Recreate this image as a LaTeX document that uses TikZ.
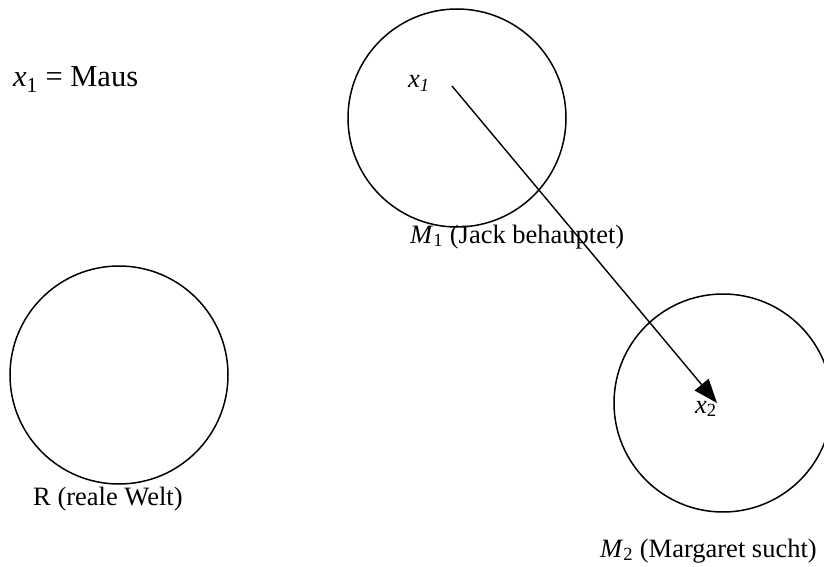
\documentclass[tikz,border=0pt]{standalone}
\usepackage{fontspec}
\setmainfont{Liberation Serif}
\usetikzlibrary{arrows.meta}
\tikzset{
  world/.style={draw=black, line width=1.5pt, circle, inner sep=0pt, minimum size=218pt},
  lbl/.style={anchor=base west, inner sep=0pt, font=\fontsize{26.5}{30}\selectfont},
  biglbl/.style={anchor=base west, inner sep=0pt, font=\fontsize{30.5}{34}\selectfont},
  link/.style={draw=black, line width=1.4pt, -{Triangle[length=24pt,width=18pt]}}
}
\begin{document}
\begin{tikzpicture}[x=1pt,y=-1pt]
\useasboundingbox (0,0) rectangle (824,567);
% worlds
\node[world] (M1) at (457,118) {};
\node[world] (R) at (119,375) {};
\node[world] (M2) at (723,403) {};
% labels
\node[biglbl] (maus) at (13,87) {\textit{x}\textsubscript{1} = Maus};
\node[lbl] (x1) at (408,88) {\textit{x\textsubscript{1}}};
\node[lbl] (m1lab) at (410,243) {\textit{M}\textsubscript{1} (Jack behauptet)};
\node[lbl] (rlab) at (33,505) {R (reale Welt)};
\node[lbl] (x2) at (695,413) {\textit{x}\textsubscript{2}};
\node[lbl] (m2lab) at (600,557) {\textit{M}\textsubscript{2} (Margaret sucht)};
% arrow
\coordinate (a1) at (452,86);
\coordinate (a2) at (717,403);
\draw[link] (a1) -- (a2);
\end{tikzpicture}
\end{document}
